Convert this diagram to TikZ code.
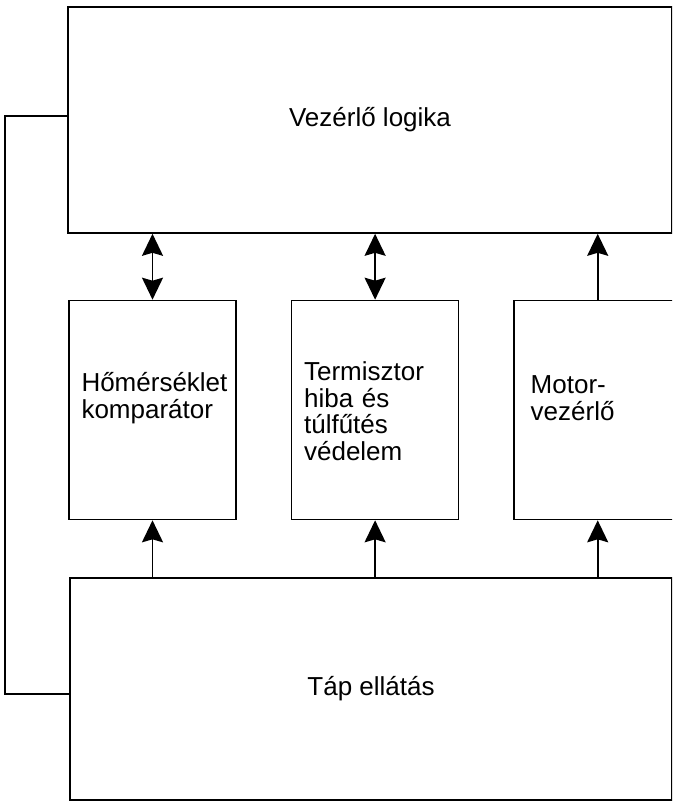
\documentclass[tikz,border=0pt]{standalone}
\usepackage{fontspec}
\setmainfont{Liberation Sans}
\usetikzlibrary{arrows.meta,positioning}
\tikzset{
  blokk/.style={rectangle,draw=black,line width=1.6pt,align=center,inner sep=0pt,font=\fontsize{26}{26.5}\selectfont},
  kisblokk/.style={blokk,minimum width=167pt,minimum height=219pt},
  szoveg/.style={align=left,text width=142pt,inner sep=0pt,font=\fontsize{26}{26.5}\selectfont},
  nyil/.style={-{Stealth[length=22pt,width=21pt,inset=3pt]},line width=1.8pt},
  ketnyil/.style={{Stealth[length=22pt,width=21pt,inset=3pt]}-{Stealth[length=22pt,width=21pt,inset=3pt]},line width=1.8pt}
}
\begin{document}
\begin{tikzpicture}[x=1pt,y=-1pt,node distance=54pt]
  \useasboundingbox (0,0) rectangle (672,802);
  \clip (0,0) rectangle (672,802);
  \node[blokk,minimum width=604pt,minimum height=226pt] (vezerlo) at (370,120) {Vezérlő logika};
  \node[kisblokk] (homers) at (152.5,410) {};
  \node[kisblokk,right=of homers] (termisztor) {};
  \node[kisblokk,right=of termisztor] (motor) {};
  \node[szoveg] (homers-t) at ([yshift=12pt]homers.center) {Hőmérséklet\\komparátor};
  \node[szoveg] (termisztor-t) at ([yshift=-1pt]termisztor.center) {Termisztor\\hiba és\\túlfűtés\\védelem};
  \node[szoveg,xshift=4pt] (motor-t) at ([yshift=12pt]motor.center) {Motor-\\vezérlő};
  \node[blokk,minimum width=602pt,minimum height=222pt] (tap) at (371,689) {Táp ellátás};
  % nyilak
  \draw[ketnyil] (homers.north) -- (homers.north |- vezerlo.south);
  \draw[ketnyil] (termisztor.north) -- (termisztor.north |- vezerlo.south);
  \draw[nyil] (motor.north) -- (motor.north |- vezerlo.south);
  \draw[nyil] (homers.south |- tap.north) -- (homers.south);
  \draw[nyil] (termisztor.south |- tap.north) -- (termisztor.south);
  \draw[nyil] (motor.south |- tap.north) -- (motor.south);
  % visszavezetes
  \draw[line width=1.6pt] ([yshift=4pt]vezerlo.west) -- ++(-62,0) |- ([yshift=-5pt]tap.west);
\end{tikzpicture}
\end{document}
